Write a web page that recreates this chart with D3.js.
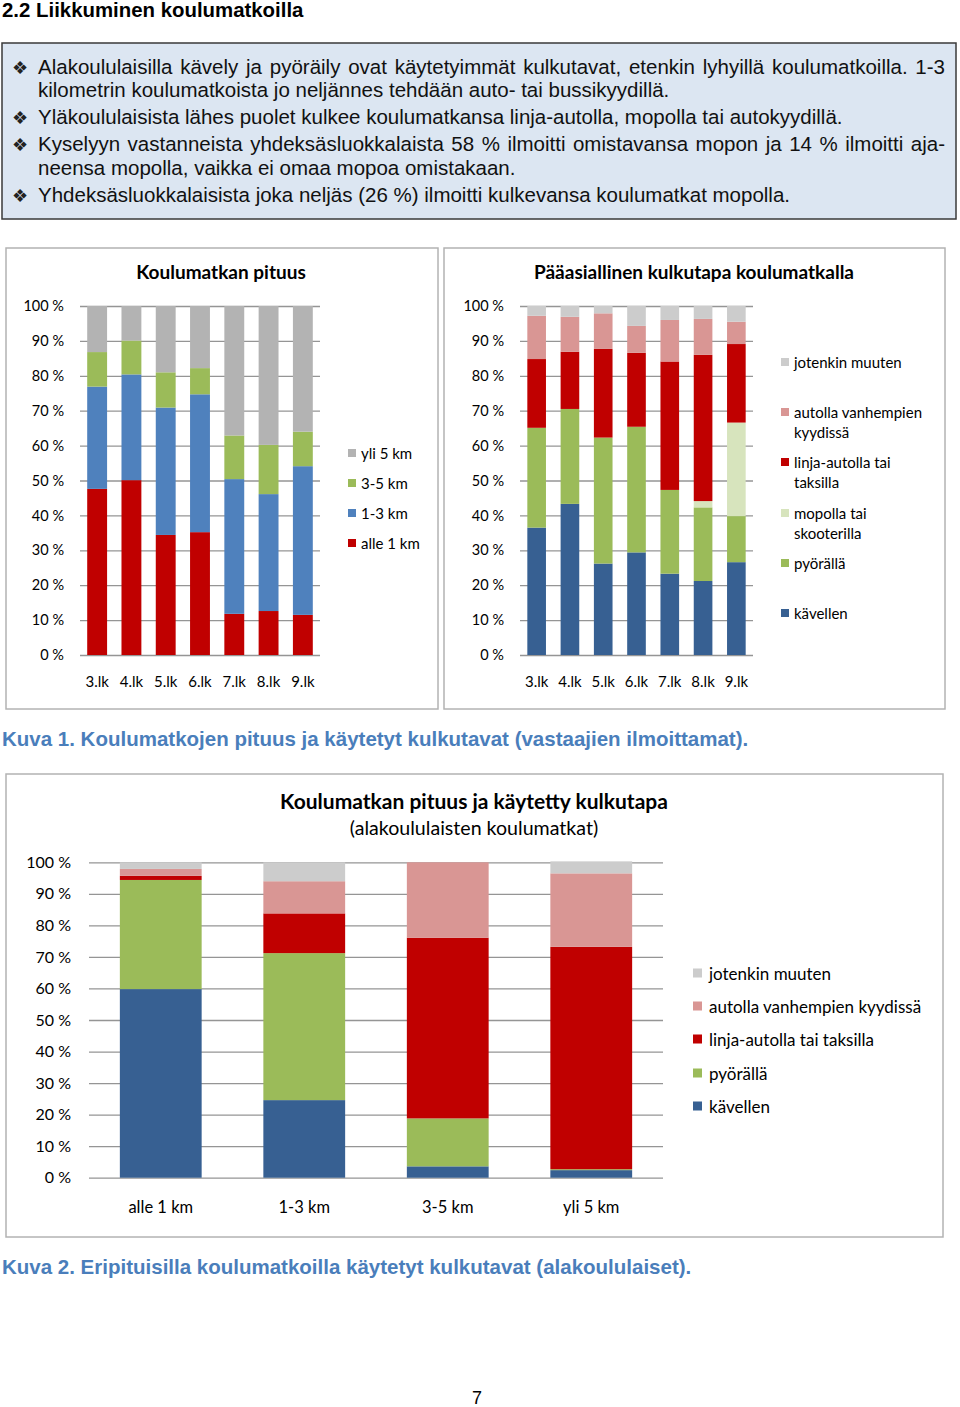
<!DOCTYPE html>
<html><head><meta charset="utf-8">
<script src="https://cdn.jsdelivr.net/npm/d3@7"></script>
<style>body{margin:0;background:#fff}svg{display:block}</style>
</head><body>
<svg id="page" width="960" height="1407"></svg>
<script>
// ---------- DATA ----------
const grades = ["3.lk","4.lk","5.lk","6.lk","7.lk","8.lk","9.lk"];
const distNames = ["alle 1 km","1-3 km","3-5 km","yli 5 km"];
const distAlle1 = [47.6, 50.1, 34.4, 35.2, 11.8, 12.6, 11.5];
const dist1to3  = [29.3, 30.3, 36.5, 39.5, 38.6, 33.5, 42.6];
const dist3to5  = [ 9.9,  9.7, 10.1,  7.5, 12.5, 14.1,  9.9];
const distYli5  = [13.2,  9.9, 19.0, 17.8, 37.1, 39.8, 36.0];

const modeNames = ["kävellen","pyörällä","mopolla tai skooterilla","linja-autolla tai taksilla","autolla vanhempien kyydissä","jotenkin muuten"];
const modeKavellen = [36.5, 43.3, 26.2, 29.4, 23.3, 21.2, 26.6];
const modePyoralla = [28.6, 27.2, 36.1, 36.0, 24.0, 21.1, 13.2];
const modeMopolla  = [ 0.0,  0.0,  0.0,  0.0,  0.0,  1.8, 26.8];
const modeLinja    = [19.7, 16.4, 25.4, 21.2, 36.8, 41.9, 22.5];
const modeAuto     = [12.4, 10.0, 10.2,  7.7, 11.9, 10.3,  6.4];
const modeMuu      = [ 2.8,  3.1,  2.1,  5.7,  4.0,  3.7,  4.5];

const c2Names = ["kävellen","pyörällä","linja-autolla tai taksilla","autolla vanhempien kyydissä","jotenkin muuten"];
const c2Kavellen = [59.8, 24.6,  3.6,  2.4];
const c2Pyoralla = [34.6, 46.6, 15.2,  0.3];
const c2Linja    = [ 1.3, 12.6, 57.3, 70.5];
const c2Auto     = [ 2.2, 10.2, 23.9, 23.3];
const c2Muu      = [ 2.1,  6.0,  0.0,  3.8];

const yTicks = [0,10,20,30,40,50,60,70,80,90,100];
const yTickLabels = yTicks.map(v => v + " %");

// ---------- PAGE ----------
const svg = d3.select("#page");
const bodyFont = "'Liberation Sans', Arial, sans-serif";
const chartFont = "Lato, 'Open Sans', sans-serif";

svg.append("text").attr("x",2).attr("y",17)
  .attr("font-family",bodyFont).attr("font-weight","bold").attr("font-size",20.4).attr("fill","#000")
  .text("2.2 Liikkuminen koulumatkoilla");

svg.append("rect").attr("x",2).attr("y",43).attr("width",954).attr("height",176)
  .attr("fill","#dce6f2").attr("stroke","#3a3a3a").attr("stroke-width",1.5);

const boxLines = [
  {t:"Alakoululaisilla kävely ja pyöräily ovat käytetyimmät kulkutavat, etenkin lyhyillä koulumatkoilla. 1-3", y:74, bullet:true, just:true},
  {t:"kilometrin koulumatkoista jo neljännes tehdään auto- tai bussikyydillä.", y:97, bullet:false, just:false},
  {t:"Yläkoululaisista lähes puolet kulkee koulumatkansa linja-autolla, mopolla tai autokyydillä.", y:124, bullet:true, just:false},
  {t:"Kyselyyn vastanneista yhdeksäsluokkalaista 58 % ilmoitti omistavansa mopon ja 14 % ilmoitti aja-", y:151, bullet:true, just:true},
  {t:"neensa mopolla, vaikka ei omaa mopoa omistakaan.", y:175, bullet:false, just:false},
  {t:"Yhdeksäsluokkalaisista joka neljäs (26 %) ilmoitti kulkevansa koulumatkat mopolla.", y:202, bullet:true, just:false}
];
boxLines.forEach(l => {
  if (l.bullet) {
    svg.append("text").attr("x",12).attr("y",l.y).attr("font-family","'DejaVu Sans', sans-serif")
      .attr("font-size",18).attr("fill","#222").text("❖");
  }
  const t = svg.append("text").attr("x",38).attr("y",l.y)
    .attr("font-family",bodyFont).attr("font-size",20.5).attr("fill","#111").text(l.t);
  if (l.just) {
    const w = t.node().getComputedTextLength();
    const spaces = (l.t.match(/ /g) || []).length;
    const ws = (945 - 38 - w) / spaces;
    t.attr("word-spacing", ws);
  }
});

// ---------- generic stacked chart ----------
function stackedChart(cfg) {
  const g = svg.append("g");
  g.append("rect").attr("x",cfg.frame[0]).attr("y",cfg.frame[1]).attr("width",cfg.frame[2]).attr("height",cfg.frame[3])
    .attr("fill","#fff").attr("stroke","#b3b3b3").attr("stroke-width",1.5);
  cfg.titles.forEach(tt => {
    g.append("text").attr("x",tt.x).attr("y",tt.y).attr("text-anchor","middle")
      .attr("font-family",chartFont).attr("font-size",tt.size).attr("font-weight",tt.bold?"bold":"normal")
      .attr("fill","#000").text(tt.text);
  });
  const x = d3.scaleBand().domain(cfg.cats).range([cfg.x0,cfg.x1]).paddingInner(cfg.pad).paddingOuter(cfg.pad/2);
  const y = d3.scaleLinear().domain([0,100]).range([cfg.y0,cfg.y1]);

  const axisY = g.append("g").attr("transform",`translate(${cfg.x0},0)`)
    .call(d3.axisLeft(y).tickValues(yTicks).tickFormat((d,i)=>yTickLabels[i])
      .tickSize(-(cfg.x1-cfg.x0)).tickPadding(cfg.tickPad));
  axisY.select(".domain").remove();
  axisY.selectAll("line").attr("stroke","#959595").attr("stroke-width",1.3);
  axisY.selectAll("text").attr("font-family",chartFont).attr("font-size",cfg.tickSize).attr("fill","#000");

  const rows = cfg.cats.map((c,i) => {
    const o = {cat:c};
    cfg.series.forEach((s,k) => o[s] = cfg.values[k][i]);
    return o;
  });
  const stacked = d3.stack().keys(cfg.series)(rows);
  stacked.forEach((layer,k) => {
    g.append("g").selectAll("rect").data(layer).join("rect")
      .attr("x", d => x(d.data.cat)).attr("width", x.bandwidth())
      .attr("y", d => y(d[1])).attr("height", d => Math.max(0, y(d[0]) - y(d[1])))
      .attr("fill", cfg.colors[k]);
  });

  const axisX = g.append("g").attr("transform",`translate(0,${cfg.y0})`)
    .call(d3.axisBottom(x).tickSize(0).tickPadding(cfg.xLabPad));
  axisX.select(".domain").remove();
  axisX.selectAll("text").attr("font-family",chartFont).attr("font-size",cfg.xSize).attr("fill","#000");

  // legend
  cfg.legend.forEach(it => {
    const k = cfg.series.indexOf(it.key);
    g.append("rect").attr("x",cfg.legX).attr("y",it.y - cfg.sw/2 - 1).attr("width",cfg.sw).attr("height",cfg.sw)
      .attr("fill",cfg.colors[k]);
    it.lines.forEach((ln,j) => {
      g.append("text").attr("x",cfg.legX + cfg.sw + cfg.legGap).attr("y",it.y + j*cfg.legLH).attr("dy","0.35em")
        .attr("font-family",chartFont).attr("font-size",cfg.legSize).attr("fill","#000").text(ln);
    });
  });
}

// Chart 1a
stackedChart({
  frame:[6,248,432,461],
  titles:[{text:"Koulumatkan pituus", x:221, y:279, size:19, bold:true}],
  cats:grades, x0:80, x1:320, y0:655, y1:306, pad:0.42, tickPad:16, tickSize:14.5, xSize:15, xLabPad:21,
  series:distNames, values:[distAlle1,dist1to3,dist3to5,distYli5],
  colors:["#c00000","#4f81bd","#9bbb59","#b3b3b3"],
  legX:348, sw:8, legGap:5, legLH:20, legSize:15,
  legend:[{key:"yli 5 km",y:454,lines:["yli 5 km"]},{key:"3-5 km",y:484,lines:["3-5 km"]},
          {key:"1-3 km",y:514,lines:["1-3 km"]},{key:"alle 1 km",y:544,lines:["alle 1 km"]}]
});

// Chart 1b
stackedChart({
  frame:[444,248,501,461],
  titles:[{text:"Pääasiallinen kulkutapa koulumatkalla", x:694, y:279, size:19, bold:true}],
  cats:grades, x0:520, x1:753, y0:655, y1:306, pad:0.44, tickPad:16, tickSize:14.5, xSize:15, xLabPad:21,
  series:modeNames, values:[modeKavellen,modePyoralla,modeMopolla,modeLinja,modeAuto,modeMuu],
  colors:["#376092","#9bbb59","#d7e4bd","#c00000","#d99694","#cccccc"],
  legX:781, sw:8, legGap:5, legLH:20, legSize:15,
  legend:[{key:"jotenkin muuten",y:363,lines:["jotenkin muuten"]},
          {key:"autolla vanhempien kyydissä",y:413,lines:["autolla vanhempien","kyydissä"]},
          {key:"linja-autolla tai taksilla",y:463,lines:["linja-autolla tai","taksilla"]},
          {key:"mopolla tai skooterilla",y:514,lines:["mopolla tai","skooterilla"]},
          {key:"pyörällä",y:564,lines:["pyörällä"]},
          {key:"kävellen",y:614,lines:["kävellen"]}]
});

const capColor = "#4a7ebb";
svg.append("text").attr("x",2).attr("y",746).attr("font-family",bodyFont).attr("font-weight","bold")
  .attr("font-size",20.5).attr("fill",capColor)
  .text("Kuva 1. Koulumatkojen pituus ja käytetyt kulkutavat (vastaajien ilmoittamat).");

// Chart 2
stackedChart({
  frame:[6,774,937,463],
  titles:[{text:"Koulumatkan pituus ja käytetty kulkutapa", x:474, y:809, size:21, bold:true},
          {text:"(alakoululaisten koulumatkat)", x:474, y:835, size:19.6, bold:false}],
  cats:distNames, x0:89, x1:663, y0:1177.7, y1:862.3, pad:0.43, tickPad:18, tickSize:16, xSize:16.5, xLabPad:24,
  series:c2Names, values:[c2Kavellen,c2Pyoralla,c2Linja,c2Auto,c2Muu],
  colors:["#376092","#9bbb59","#c00000","#d99694","#cccccc"],
  legX:693, sw:9, legGap:7, legLH:20, legSize:17,
  legend:[{key:"jotenkin muuten",y:974,lines:["jotenkin muuten"]},
          {key:"autolla vanhempien kyydissä",y:1007,lines:["autolla vanhempien kyydissä"]},
          {key:"linja-autolla tai taksilla",y:1040,lines:["linja-autolla tai taksilla"]},
          {key:"pyörällä",y:1074,lines:["pyörällä"]},
          {key:"kävellen",y:1107,lines:["kävellen"]}]
});

svg.append("text").attr("x",2).attr("y",1274).attr("font-family",bodyFont).attr("font-weight","bold")
  .attr("font-size",20.5).attr("fill",capColor)
  .text("Kuva 2. Eripituisilla koulumatkoilla käytetyt kulkutavat (alakoululaiset).");

svg.append("text").attr("x",477).attr("y",1404).attr("text-anchor","middle").attr("font-family",bodyFont)
  .attr("font-size",18).attr("fill","#000").text("7");
</script>
</body></html>
